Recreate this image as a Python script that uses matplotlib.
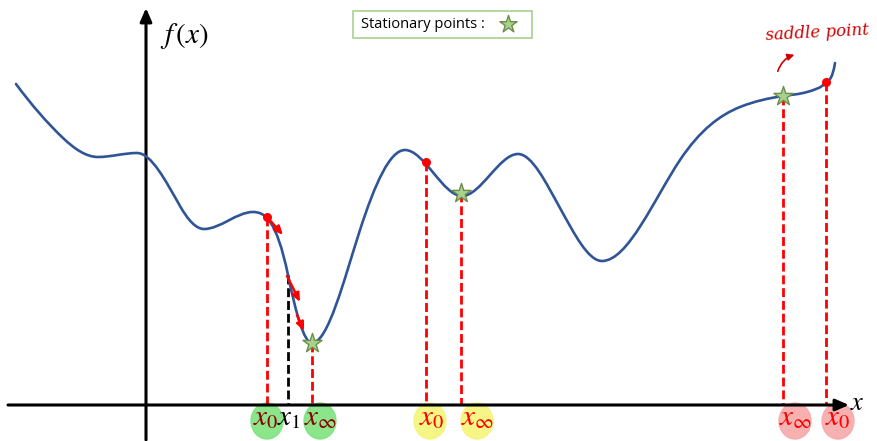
#!/usr/bin/env python3
"""Gradient descent sketch: curve with stationary points and x0 -> x_inf drops."""
import matplotlib
matplotlib.use("Agg")
import matplotlib.pyplot as plt
from matplotlib.path import Path
from matplotlib.patches import PathPatch, Ellipse, FancyBboxPatch

plt.rcParams["mathtext.fontset"] = "stix"

# Curve knots in pixel coordinates (y grows downwards) and the slope read there
curve_x = [16, 63, 98, 137, 180, 204, 253, 288, 312, 360, 405, 462, 518, 560,
           602, 680, 740, 783, 807, 827, 835]
curve_y = [84, 138, 157, 153, 206, 229, 212, 275, 343, 230, 150, 196, 154, 208,
           261, 160, 107, 96, 92, 82, 63]
curve_dydx = [1.35, 0.95, 0, 0, 1.75, 0, 0, 4.8, 0, -3.1, 0, 0, 0, 1.8,
              0, -1.5, -0.4, -0.15, -0.3, -1.0, -6.0]

AXIS_Y = 405
# Dashed drops: x position, top y, colour
drop_x = [267, 288, 312, 426, 461, 783, 826]
drop_top = [217, 275, 343, 162, 193, 96, 82]
drop_col = ["red", "black", "red", "red", "red", "red", "red"]

star_x = [312, 461, 783]
star_y = [343, 193, 96]
start_x = [267, 426, 826]
start_y = [217, 162, 82]

# gradient step arrows (tail x, tail y, head x, head y)
arrows = [(267, 217, 283, 235), (287, 276, 300, 302), (297, 315, 304, 331)]

# bottom labels: text, x, colour, blob colour
lab_txt = [r"$x_0$", r"$x_1$", r"$x_\infty$", r"$x_0$", r"$x_\infty$", r"$x_\infty$", r"$x_0$"]
lab_x = [266, 289, 321, 432, 478, 796, 838]
lab_col = ["#8b0000", "black", "#8b0000", "red", "red", "red", "red"]
blob_x = [267, None, 320, 430, 477, 795, 838]
blob_col = ["#7ee37e", None, "#7ee37e", "#f5f57a", "#f5f57a", "#f7a9a9", "#f7a9a9"]

BLUE = "#2f5597"

fig = plt.figure(figsize=(8.77, 4.41), dpi=100)
ax = fig.add_axes([0, 0, 1, 1])
ax.set_xlim(0, 877)
ax.set_ylim(441, 0)
ax.axis("off")

# axes with arrow heads
ax.annotate("", xy=(849, AXIS_Y), xytext=(8, AXIS_Y),
            arrowprops=dict(arrowstyle="-|>,head_length=0.8,head_width=0.35",
                            color="black", lw=2.2, shrinkA=0, shrinkB=0))
ax.annotate("", xy=(146, 8), xytext=(146, 440),
            arrowprops=dict(arrowstyle="-|>,head_length=0.8,head_width=0.35",
                            color="black", lw=2.2, shrinkA=0, shrinkB=0))
ax.text(160, 36, r"$f\,(x)$", fontsize=21, ha="left", va="center")
ax.text(850, 403, r"$x$", fontsize=19, ha="left", va="center")

# smooth curve: one cubic Bezier per knot pair (Hermite handles from slopes)
verts = [(curve_x[0], curve_y[0])]
codes = [Path.MOVETO]
for i in range(len(curve_x) - 1):
    x0, y0, m0 = curve_x[i], curve_y[i], curve_dydx[i]
    x1, y1, m1 = curve_x[i + 1], curve_y[i + 1], curve_dydx[i + 1]
    h = (x1 - x0) / 3
    verts += [(x0 + h, y0 + m0 * h), (x1 - h, y1 - m1 * h), (x1, y1)]
    codes += [Path.CURVE4] * 3
ax.add_patch(PathPatch(Path(verts, codes), fill=False, edgecolor=BLUE, lw=1.9,
                       capstyle="round", zorder=3))

# dashed drops
for x, top, c in zip(drop_x, drop_top, drop_col):
    ax.plot([x, x], [top, AXIS_Y], color=c, lw=2.0, ls=(0, (3.2, 1.4)), zorder=2)

for x0, y0, x1, y1 in arrows:
    ax.annotate("", xy=(x1, y1), xytext=(x0, y0),
                arrowprops=dict(arrowstyle="-|>,head_length=0.5,head_width=0.22",
                                color="red", lw=1.8, shrinkA=0, shrinkB=0), zorder=5)

ax.scatter(start_x, start_y, s=30, color="red", zorder=6)
ax.scatter(star_x, star_y, s=210, marker="*", color="#a9d18e", edgecolor="#6b8f4a",
           linewidth=1.0, zorder=6)

# highlighted labels
for t, x, c, bx, bc in zip(lab_txt, lab_x, lab_col, blob_x, blob_col):
    if bx is not None:
        ax.add_patch(Ellipse((bx, 421), 32, 36, color=bc, alpha=0.9, zorder=1))
    ax.text(x, 417, t, fontsize=21, color=c, ha="center", va="center", zorder=4)

# legend box
ax.add_patch(FancyBboxPatch((353, 11), 179, 27, boxstyle="square,pad=0",
                            facecolor="white", edgecolor="#a9d18e", lw=1.2))
ax.text(361, 25, "Stationary points :", fontsize=10.5, family="Open Sans",
        ha="left", va="center")
ax.scatter([508], [24], s=170, marker="*", color="#a9d18e", edgecolor="#6b8f4a",
           linewidth=1.0, zorder=6)

# handwritten note
ax.text(817, 33, "saddle point", fontsize=12, color="#d00000", style="italic",
        family="DejaVu Serif", ha="center", va="center", rotation=3)
ax.annotate("", xy=(797, 54), xytext=(777, 74),
            arrowprops=dict(arrowstyle="-|>,head_length=0.4,head_width=0.2",
                            color="#d00000", lw=1.2, connectionstyle="arc3,rad=-0.3"))

fig.savefig("out.png", dpi=100)
